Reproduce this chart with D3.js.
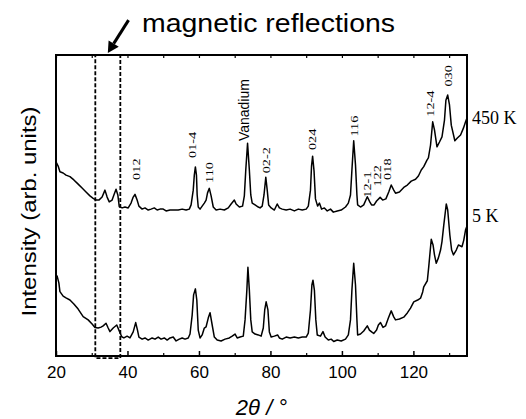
<!DOCTYPE html>
<html>
<head>
<meta charset="utf-8">
<script src="https://cdn.jsdelivr.net/npm/d3@7.9.0/dist/d3.min.js"></script>
<style>
  body { margin: 0; background: #fff; }
  svg { display: block; }
</style>
</head>
<body>
<svg id="chart" width="526" height="419"></svg>
<script>
// 2theta (deg) and intensity (arb. units, stacked)
const trace450K = [
  [20.0,64.5],[20.6,63.1],[21.1,61.2],[22.0,60.8],[22.8,60.1],[23.9,59.6],[25.0,58.5],[26.2,57.1],
  [27.3,55.8],[28.4,54.5],[29.5,53.2],[30.4,52.4],[31.2,51.8],[32.0,51.8],[32.9,52.8],[33.7,55.1],
  [34.3,52.8],[34.9,51.2],[35.7,51.8],[36.2,53.5],[36.8,55.4],[37.3,53.5],[37.7,49.6],[38.5,49.2],
  [39.3,49.5],[40.2,49.2],[41.0,50.8],[41.6,52.8],[42.1,53.7],[42.7,51.8],[43.2,49.8],[44.1,48.8],
  [44.9,49.2],[45.8,48.5],[46.6,48.8],[47.5,49.2],[48.3,48.5],[49.1,48.8],[50.0,48.8],[50.8,48.2],
  [51.9,48.5],[53.1,48.5],[54.2,48.5],[55.3,48.8],[56.4,48.5],[57.3,48.8],[57.8,50.2],[58.4,55.1],
  [58.7,60.1],[59.0,62.8],[59.3,60.1],[59.5,53.5],[59.8,49.5],[60.3,48.8],[60.9,49.8],[61.5,50.8],
  [62.0,51.8],[62.4,54.2],[62.9,55.7],[63.4,53.2],[64.0,49.5],[64.8,48.5],[65.9,48.8],[67.1,48.5],
  [68.2,49.2],[69.0,50.5],[69.9,51.8],[70.4,50.5],[71.3,49.5],[72.2,49.8],[72.7,53.2],[73.1,61.8],
  [73.6,70.7],[74.1,61.8],[74.5,53.5],[74.9,50.8],[75.7,50.2],[76.6,49.5],[77.1,49.2],[77.7,49.8],
  [78.2,53.5],[78.7,59.4],[79.1,55.1],[79.5,50.2],[80.2,49.2],[81.1,48.5],[81.9,50.5],[82.5,49.2],
  [83.3,48.8],[84.4,48.5],[85.5,48.8],[86.7,48.2],[87.8,48.8],[88.9,48.5],[90.0,48.8],[90.6,49.8],
  [91.2,55.1],[91.5,63.1],[91.8,66.4],[92.2,61.5],[92.6,52.2],[93.2,49.8],[93.7,50.8],[94.3,48.8],
  [95.1,49.2],[95.9,48.2],[96.8,48.8],[97.6,47.8],[98.7,48.2],[99.8,48.5],[101.0,49.5],[101.8,50.8],
  [102.4,53.5],[102.8,61.8],[103.3,71.5],[103.8,63.5],[104.2,53.5],[104.4,50.2],[105.2,49.5],[106.1,50.2],
  [107.1,52.9],[107.8,51.2],[108.3,50.2],[109.0,50.2],[109.7,51.5],[110.7,52.7],[111.4,51.8],[112.3,52.2],
  [113.1,54.5],[113.8,56.8],[114.5,55.1],[115.0,54.1],[116.1,54.5],[117.3,56.0],[118.3,56.8],[119.4,58.1],
  [120.6,58.7],[121.4,59.8],[122.2,61.8],[122.9,62.9],[123.8,65.1],[124.2,65.8],[124.8,70.1],[125.4,77.8],
  [125.9,75.1],[126.6,69.5],[127.3,71.1],[128.0,72.8],[128.7,78.4],[129.1,85.0],[129.6,86.7],[130.1,83.4],
  [130.6,76.7],[131.6,71.5],[132.3,72.4],[133.2,73.4],[134.0,75.7],[134.6,77.8],[135.0,79.1]
];

const trace5K = [
  [20.0,25.5],[20.3,26.6],[20.8,24.3],[21.1,21.4],[22.0,19.9],[22.8,19.3],[23.9,18.6],[25.0,17.3],
  [26.2,15.6],[27.6,13.1],[29.0,12.0],[30.1,10.6],[30.9,9.5],[31.8,9.3],[32.6,9.6],[33.2,10.0],
  [34.0,10.9],[34.6,9.3],[35.1,8.1],[36.0,9.3],[37.0,10.3],[37.6,8.6],[38.4,6.4],[39.0,6.0],
  [39.9,6.6],[40.7,6.0],[41.6,8.0],[42.3,11.1],[42.8,8.6],[43.2,6.3],[44.1,5.6],[44.9,6.0],
  [45.8,5.3],[46.9,6.0],[47.7,5.6],[48.6,6.3],[49.4,5.6],[50.3,6.0],[51.1,5.3],[51.9,6.0],
  [52.8,6.3],[53.6,5.0],[54.5,5.6],[55.3,6.0],[56.1,5.6],[57.0,6.0],[57.5,7.3],[58.1,13.6],
  [58.5,20.3],[59.0,22.3],[59.4,18.6],[59.8,8.6],[60.3,6.0],[60.9,7.0],[61.5,9.3],[62.0,9.7],
  [62.6,12.6],[63.1,14.4],[63.7,10.3],[64.3,6.3],[65.1,5.3],[66.2,5.0],[67.3,5.6],[68.5,6.0],
  [69.3,6.6],[70.1,7.3],[70.7,6.0],[71.5,6.3],[72.4,6.6],[72.9,12.0],[73.4,21.9],[73.7,29.5],
  [74.1,21.9],[74.5,12.0],[74.9,8.0],[75.7,7.3],[76.6,7.0],[77.4,6.6],[78.0,9.3],[78.4,15.3],
  [78.8,18.0],[79.3,15.3],[79.7,8.0],[80.2,6.3],[81.1,6.6],[82.0,7.0],[82.5,6.0],[83.3,5.6],
  [84.4,6.3],[85.5,6.0],[86.7,6.3],[87.8,6.0],[88.9,6.3],[90.0,6.3],[90.6,7.6],[91.2,15.3],
  [91.6,23.6],[91.9,25.2],[92.3,21.9],[92.7,12.0],[93.1,7.0],[94.0,6.6],[94.7,8.1],[95.3,6.3],
  [96.2,5.3],[97.0,5.6],[97.7,4.8],[98.7,5.3],[99.8,5.0],[101.0,5.6],[101.8,7.0],[102.4,12.0],
  [102.8,21.9],[103.3,30.8],[103.8,23.6],[104.2,12.0],[104.4,7.0],[105.2,7.3],[106.1,8.3],[107.1,10.0],
  [107.7,8.6],[108.3,8.0],[108.9,7.5],[109.7,8.6],[110.2,10.3],[110.8,11.1],[111.5,9.5],[112.2,10.0],
  [113.0,12.6],[113.8,15.0],[114.5,13.0],[115.0,12.0],[116.1,12.3],[117.3,12.9],[118.3,14.3],[119.2,15.9],
  [120.1,18.0],[121.2,18.6],[122.0,19.2],[122.6,21.3],[122.9,23.0],[123.9,25.0],[124.3,29.7],[125.0,38.8],
  [125.5,36.9],[125.9,33.6],[126.4,30.8],[127.0,32.6],[127.6,35.2],[128.0,38.0],[128.5,43.5],[129.2,50.5],
  [129.6,48.5],[130.2,40.2],[130.7,35.2],[131.2,33.6],[132.0,35.2],[132.6,36.9],[133.6,36.3],[134.1,38.5],
  [134.6,41.9],[135.0,43.2]
];

// reflection labels: text, 2theta, intensity at foot of label
const peakNames = ["012", "01-4", "110", "Vanadium", "02-2", "024", "116", "12-1", "122", "018", "12-4", "030"];
const peakAngles = [42.4, 58.2, 62.9, 72.5, 78.7, 91.7, 103.5, 107.0, 109.8, 112.7, 124.8, 129.6];
const peakLabelY = [58.5, 65.8, 57.5, 71.4, 60.7, 68.4, 72.9, 52.6, 56.3, 58.5, 79.5, 89.5];

const seriesNames = ["450 K", "5 K"];
const seriesLabelY = [77.0, 44.5];

const xTicksMajor = [20, 40, 60, 80, 100, 120];
const xTicksMinor = [30, 50, 70, 90, 110, 130];
const magneticRange = [31, 38];

const width = 526, height = 419;
const margin = { top: 55, right: 59, bottom: 63, left: 56 };

const svg = d3.select("#chart");

const x = d3.scaleLinear().domain([20, 135]).range([margin.left, width - margin.right]);
const y = d3.scaleLinear().domain([0, 100]).range([height - margin.bottom, margin.top]);

svg.append("clipPath").attr("id", "plot-clip")
  .append("rect")
  .attr("x", x(20)).attr("y", y(100))
  .attr("width", x(135) - x(20)).attr("height", y(0) - y(100));

// traces
const line = d3.line().x(d => x(d[0])).y(d => y(d[1]));
[trace450K, trace5K].forEach(tr => {
  svg.append("path")
    .datum(tr)
    .attr("clip-path", "url(#plot-clip)")
    .attr("fill", "none")
    .attr("stroke", "#000")
    .attr("stroke-width", 1.5)
    .attr("stroke-linejoin", "round")
    .attr("d", line);
});

// magnetic region box
svg.append("rect")
  .attr("x", x(magneticRange[0]))
  .attr("y", y(100))
  .attr("width", x(magneticRange[1]) - x(magneticRange[0]))
  .attr("height", y(-0.7) - y(100))
  .attr("fill", "none")
  .attr("stroke", "#000")
  .attr("stroke-width", 1.8)
  .attr("stroke-dasharray", "4,2");

// bottom axis, ticks pointing inward
const xAxis = d3.axisBottom(x).tickValues(xTicksMajor).tickSizeInner(-5).tickSizeOuter(0).tickPadding(10);
const gx = svg.append("g").attr("transform", `translate(0,${y(0)})`).call(xAxis);
gx.select(".domain").remove();
gx.selectAll("line").attr("stroke-width", 1.5);
gx.selectAll("text")
  .attr("font-family", "Liberation Sans, Arial, sans-serif")
  .attr("font-size", 17)
  .attr("fill", "#000");

svg.append("g").attr("transform", `translate(0,${y(0)})`)
  .call(d3.axisBottom(x).tickValues(xTicksMinor).tickSize(-3).tickFormat(""))
  .call(g => g.select(".domain").remove())
  .selectAll("line").attr("stroke-width", 1.2);

svg.append("g").attr("transform", `translate(0,${y(100)})`)
  .call(d3.axisTop(x).tickValues(xTicksMajor.concat(xTicksMinor)).tickSize(-3).tickFormat(""))
  .call(g => g.select(".domain").remove())
  .selectAll("line").attr("stroke-width", 1.2);

// frame
svg.append("rect")
  .attr("x", x(20)).attr("y", y(100))
  .attr("width", x(135) - x(20)).attr("height", y(0) - y(100))
  .attr("fill", "none")
  .attr("stroke", "#000")
  .attr("stroke-width", 2);

// reflection labels
peakNames.forEach((name, i) => {
  const isSans = name === "Vanadium";
  const px = x(peakAngles[i]), py = y(peakLabelY[i]);
  svg.append("text")
    .attr("transform", `translate(${px},${py}) rotate(-90) scale(${isSans ? 1 : 1.3},1)`)
    .attr("dy", "0.35em")
    .attr("font-family", isSans ? "Liberation Sans, Arial, sans-serif" : "Liberation Serif, Times New Roman, serif")
    .attr("font-size", isSans ? 14 : 11)
    .attr("fill", "#000")
    .text(name);
});

// temperature labels
seriesNames.forEach((name, i) => {
  svg.append("text")
    .attr("x", x(135) + 5)
    .attr("y", y(seriesLabelY[i]))
    .attr("font-family", "Liberation Serif, Times New Roman, serif")
    .attr("font-size", 18)
    .attr("fill", "#000")
    .text(name);
});

// axis titles
svg.append("text")
  .attr("transform", `translate(36,${(y(0) + y(100)) / 2 + 6}) rotate(-90)`)
  .attr("text-anchor", "middle")
  .attr("font-family", "Liberation Sans, Arial, sans-serif")
  .attr("font-size", 21)
  .attr("textLength", 210)
  .attr("lengthAdjust", "spacingAndGlyphs")
  .text("Intensity (arb. units)");

svg.append("text")
  .attr("x", (x(20) + x(135)) / 2)
  .attr("y", 415)
  .attr("text-anchor", "middle")
  .attr("font-family", "Liberation Sans, Arial, sans-serif")
  .attr("font-style", "italic")
  .attr("font-size", 22)
  .text("2θ / °");

// annotation
svg.append("text")
  .attr("x", 142)
  .attr("y", 32)
  .attr("font-family", "Liberation Sans, Arial, sans-serif")
  .attr("font-size", 25)
  .attr("textLength", 253)
  .attr("lengthAdjust", "spacingAndGlyphs")
  .text("magnetic  reflections");

const tail = [x(40.3), y(111.6)], tip = [x(34.5), y(100.7)];
const ang = Math.atan2(tip[1] - tail[1], tip[0] - tail[0]);
const headLen = 11, headW = 6;
const base = [tip[0] - headLen * Math.cos(ang), tip[1] - headLen * Math.sin(ang)];
svg.append("line")
  .attr("x1", tail[0]).attr("y1", tail[1])
  .attr("x2", base[0]).attr("y2", base[1])
  .attr("stroke", "#000").attr("stroke-width", 3);
svg.append("path")
  .attr("d", d3.line()([
    tip,
    [base[0] + headW * Math.sin(ang), base[1] - headW * Math.cos(ang)],
    [base[0] - headW * Math.sin(ang), base[1] + headW * Math.cos(ang)]
  ]) + "Z")
  .attr("fill", "#000");
</script>
</body>
</html>
